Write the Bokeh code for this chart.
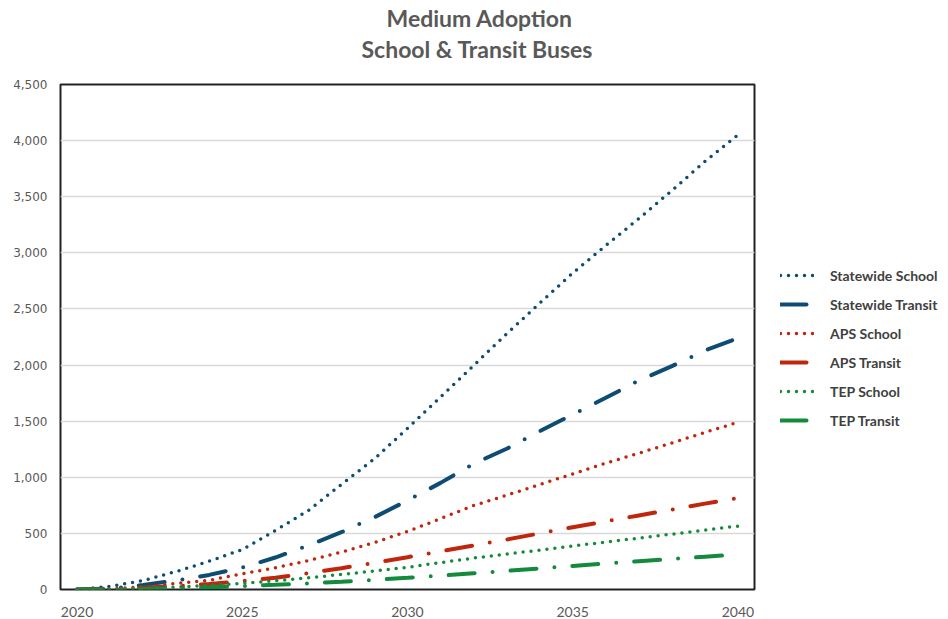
from bokeh.plotting import figure
from bokeh.models import Title, Legend, LegendItem, NumeralTickFormatter, FixedTicker, Range1d
from bokeh.embed import file_html
from bokeh.resources import INLINE

years = list(range(2020, 2041))
statewide_school = [0, 27, 80, 160, 252, 356, 526, 704, 936, 1165, 1435, 1714, 1996, 2278, 2551, 2820, 3065, 3305, 3555, 3814, 4052]
statewide_transit = [0, 8, 40, 80, 130, 195, 285, 392, 511, 644, 793, 950, 1120, 1254, 1411, 1560, 1708, 1862, 1990, 2130, 2240]
aps_school = [0, 5, 25, 53, 82, 140, 193, 258, 333, 419, 517, 632, 748, 840, 935, 1030, 1125, 1215, 1305, 1400, 1490]
aps_transit = [0, 3, 15, 30, 50, 75, 105, 145, 190, 238, 288, 340, 392, 445, 500, 555, 607, 660, 712, 765, 815]
tep_school = [0, 2, 10, 22, 37, 55, 78, 104, 134, 165, 198, 240, 280, 316, 351, 387, 423, 458, 493, 529, 565]
tep_transit = [0, 1, 5, 12, 20, 30, 42, 55, 70, 86, 104, 124, 145, 166, 188, 210, 231, 252, 272, 292, 312]

series_names = ["Statewide School", "Statewide Transit", "APS School", "APS Transit", "TEP School", "TEP Transit"]
series_values = [statewide_school, statewide_transit, aps_school, aps_transit, tep_school, tep_transit]
series_colors = ["#0E4C73", "#0E4C73", "#C0260C", "#C0260C", "#148A3C", "#148A3C"]
series_kind = ["school", "transit", "school", "transit", "school", "transit"]

x_ticks = [2020, 2025, 2030, 2035, 2040]
y_ticks = list(range(0, 4501, 500))

p = figure(frame_width=694, frame_height=505, output_backend="svg", toolbar_location=None,
           x_range=Range1d(2019.5, 2040.5), y_range=Range1d(0, 4500),
           min_border_left=60, min_border_top=10, min_border_bottom=10, min_border_right=10)

# outer title line (top)
p.title.text = "Medium Adoption"
p.title.align = "left"
p.title.offset = 326
p.title.text_font = "Lato"
p.title.text_font_size = "23px"
p.title.text_font_style = "bold"
p.title.text_color = "#595959"
p.title.standoff = 2
# spacer between title and plot frame (nearest the frame)
spacer = Title(text=" ", text_font_size="1px", standoff=19)
p.add_layout(spacer, "above")
# second title line
t2 = Title(text="School & Transit Buses", align="left", offset=301, text_font="Lato",
           text_font_size="23px", text_font_style="bold", text_color="#595959", standoff=0)
p.add_layout(t2, "above")

p.outline_line_color = "#222222"
p.outline_line_width = 2
p.background_fill_color = "white"
p.border_fill_color = "white"

p.xgrid.visible = False
p.ygrid.grid_line_color = "#D9D9D9"
p.ygrid.grid_line_width = 1.5
p.ygrid.ticker = FixedTicker(ticks=y_ticks)

p.xaxis.ticker = FixedTicker(ticks=x_ticks)
p.yaxis.ticker = FixedTicker(ticks=y_ticks)
p.yaxis.formatter = NumeralTickFormatter(format="0,0")
for ax in (p.xaxis, p.yaxis):
    ax.axis_line_color = None
    ax.major_tick_line_color = None
    ax.minor_tick_line_color = None
    ax.major_label_text_color = "#595959"
p.xaxis.major_label_text_font = "Lato"
p.xaxis.major_label_text_font_size = "14px"
p.xaxis.major_label_standoff = 11
p.yaxis.major_label_text_font = "DejaVu Sans"
p.yaxis.major_label_text_font_size = "12px"
p.yaxis.major_label_standoff = 7

items = []
for name, vals, col, kind in zip(series_names, series_values, series_colors, series_kind):
    if kind == "school":
        r = p.line(years, vals, line_color=col, line_width=3.5, line_dash="0 8", line_cap="round")
    else:
        r = p.line(years, vals, line_color=col, line_width=4, line_dash="26 18 0 18", line_cap="round")
    items.append(LegendItem(label=name, renderers=[r]))

legend = Legend(items=items, location=(26, 159), padding=0, margin=0, spacing=9,
                glyph_width=34, glyph_height=20, label_height=20, label_standoff=16,
                label_text_font="Lato", label_text_font_size="14px", label_text_font_style="bold",
                label_text_color="#404040", border_line_color=None, background_fill_alpha=0)
p.add_layout(legend, "right")

open("out.html", "w").write(file_html(p, INLINE))
